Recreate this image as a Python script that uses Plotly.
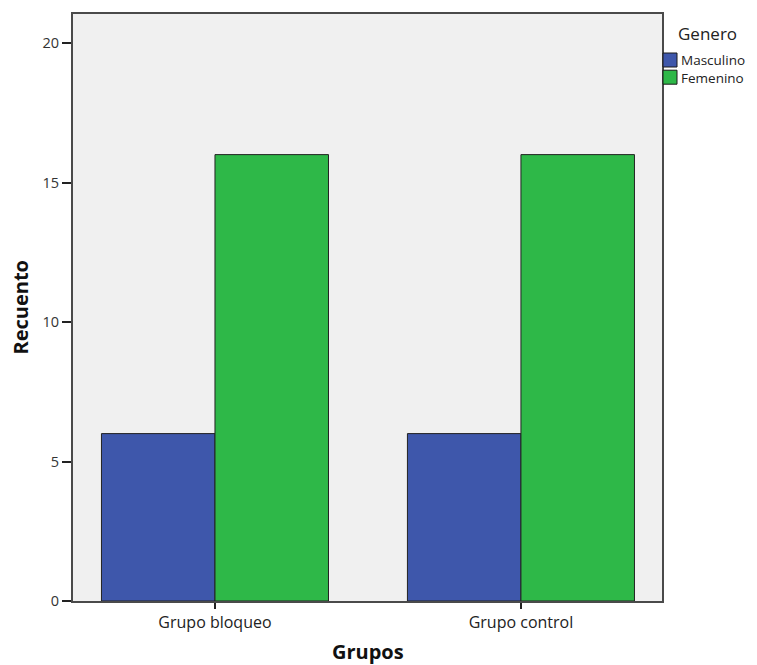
import plotly.graph_objects as go

categories = ["Grupo bloqueo", "Grupo control"]
masculino = [6, 6]
femenino = [16, 16]
series_names = ["Masculino", "Femenino"]
colors = ["#3e57ab", "#2eb848"]
y_ticks = [0, 5, 10, 15, 20]

FONT = "Open Sans, DejaVu Sans, sans-serif"

# plot area in screen px (page body adds 8px offset)
PL, PR, PT, PB = 73, 662, 14, 601
PW, PH = PR - PL, PB - PT


def px(x):
    return (x - PL) / PW


def py(y):
    return 1 - (y - PT) / PH


fig = go.Figure()
for name, vals, col in zip(series_names, [masculino, femenino], colors):
    fig.add_trace(go.Bar(
        x=categories, y=vals, name=name,
        marker=dict(color=col, line=dict(color="#222", width=1)),
        showlegend=False,
    ))

fig.update_layout(
    width=757, height=665,
    margin=dict(l=PL - 8, r=757 - (PR - 8), t=PT - 8, b=665 - (PB - 8), autoexpand=False),
    paper_bgcolor="white",
    plot_bgcolor="#f0f0f0",
    barmode="group", bargap=0.258, bargroupgap=0,
    font=dict(family=FONT, color="#222"),
    xaxis=dict(
        range=[-0.464, 1.461],
        showline=True, linecolor="#4a4a4a", linewidth=2, mirror=True,
        ticks="outside", ticklen=6, tickcolor="#222", tickwidth=1.5,
        tickfont=dict(size=16, color="#222"),
        automargin=False,
    ),
    yaxis=dict(
        range=[0, 21.04], tickvals=y_ticks,
        showline=True, linecolor="#4a4a4a", linewidth=2, mirror=True,
        showgrid=False, zeroline=False,
        ticks="outside", ticklen=9, tickcolor="#222", tickwidth=1.5,
        tickfont=dict(size=14.5, color="#333"),
        automargin=False,
    ),
)

# axis titles
fig.add_annotation(xref="paper", yref="paper", x=px(20), y=0.5, text="<b>Recuento</b>",
                   textangle=-90, showarrow=False, xanchor="center", yanchor="middle",
                   font=dict(size=20, color="#111", family=FONT))
fig.add_annotation(xref="paper", yref="paper", x=0.5, y=py(651), text="<b>Grupos</b>",
                   showarrow=False, xanchor="center", yanchor="middle",
                   font=dict(size=20, color="#111", family=FONT))

# legend drawn as shapes/annotations
fig.add_annotation(xref="paper", yref="paper", x=px(676), y=py(33),
                   text="Genero", showarrow=False, xanchor="left", yanchor="middle",
                   font=dict(size=17, color="#222", family=FONT))
ycs = [60 + i * 17.2 for i in range(len(series_names))]
for yc, col in zip(ycs, colors):
    x0 = 663
    fig.add_shape(type="rect", xref="paper", yref="paper",
                  x0=px(x0), x1=px(x0 + 14),
                  y0=py(yc + 7), y1=py(yc - 7),
                  fillcolor=col, line=dict(color="#1a1a1a", width=1))
fig.add_annotation(xref="paper", yref="paper", x=px(679), y=py(sum(ycs) / len(ycs)),
                   text="<br>".join(series_names), showarrow=False, align="left",
                   xanchor="left", yanchor="middle",
                   font=dict(size=13.5, color="#222", family=FONT))

fig.write_html("out.html")
